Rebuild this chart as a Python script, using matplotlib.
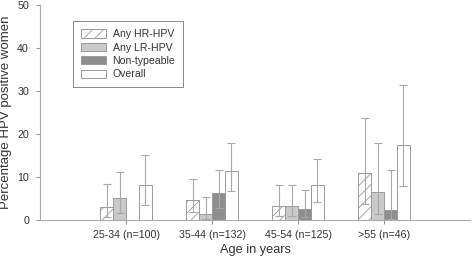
import numpy as np
import matplotlib
matplotlib.use('Agg')
import matplotlib.pyplot as plt

plt.rcParams['font.family'] = ['Liberation Sans', 'DejaVu Sans']
plt.rcParams['hatch.color'] = '#9a9a9a'
plt.rcParams['hatch.linewidth'] = 0.6

groups = ['25-34 (n=100)', '35-44 (n=132)', '45-54 (n=125)', '>55 (n=46)']
series = ['Any HR-HPV', 'Any LR-HPV', 'Non-typeable', 'Overall']

# percentages with 95% CI (lower, upper)
hr = [3.0, 4.5, 3.2, 10.9]
hr_lo = [0.6, 1.7, 0.9, 3.6]
hr_hi = [8.4, 9.5, 8.1, 23.6]
lr = [5.0, 1.4, 3.2, 6.5]
lr_lo = [1.6, 0.2, 0.9, 1.4]
lr_hi = [11.2, 5.3, 8.1, 17.9]
nt = [0.0, 6.1, 2.5, 2.2]
nt_lo = [0.0, 2.6, 0.5, 0.1]
nt_hi = [0.0, 11.5, 7.0, 11.5]
ov = [8.0, 11.4, 8.1, 17.4]
ov_lo = [3.5, 6.6, 4.0, 7.8]
ov_hi = [15.0, 17.9, 14.2, 31.4]

vals = [hr, lr, nt, ov]
los = [hr_lo, lr_lo, nt_lo, ov_lo]
his = [hr_hi, lr_hi, nt_hi, ov_hi]
faces = ['white', '#cacaca', '#8e8e8e', 'white']
hatches = ['///', None, None, None]
edge = '#9a9a9a'
txt = '#333333'

fig = plt.figure(figsize=(4.72, 2.62), dpi=100)
ax = fig.add_axes([0.085, 0.162, 0.911, 0.818])

x = np.arange(1, len(groups) + 1)
w = 0.15
for i in range(4):
    pos = x + (i - 1.5) * w
    v = np.array(vals[i])
    err = [v - np.array(los[i]), np.array(his[i]) - v]
    show = np.array(his[i]) > 0
    ax.bar(pos, v, w, color=faces[i], edgecolor=edge, linewidth=0.7,
           hatch=hatches[i], label=series[i])
    ax.errorbar(pos[show], v[show], yerr=[err[0][show], err[1][show]], fmt='none',
                ecolor='#a8a8a8', elinewidth=0.8, capsize=3, capthick=0.8)

ax.set_xlim(0, 5)
ax.set_ylim(0, 50)
ax.set_xticks(x)
ax.set_xticklabels(groups, fontsize=7.7, color=txt)
ax.set_yticks([0, 10, 20, 30, 40, 50])
ax.tick_params(axis='y', labelsize=7.7, labelcolor=txt, color='#999999', length=3, pad=5)
ax.tick_params(axis='x', color='#999999', length=3, pad=4.5)
for s in ['top', 'right']:
    ax.spines[s].set_visible(False)
for s in ['left', 'bottom']:
    ax.spines[s].set_color('#aaaaaa')
    ax.spines[s].set_linewidth(0.8)

ax.set_ylabel('Percentage HPV positive women', fontsize=9.5, color=txt, labelpad=4)
ax.set_xlabel('Age in years', fontsize=9.2, color=txt, labelpad=3)

leg = ax.legend(loc='upper left', bbox_to_anchor=(0.064, 0.95), fontsize=7.6,
                fancybox=False, edgecolor='#888888', framealpha=1,
                handlelength=2.4, handleheight=0.8, borderpad=0.75,
                labelspacing=0.32, handletextpad=0.6)
leg.get_frame().set_linewidth(0.7)
for t in leg.get_texts():
    t.set_color(txt)

fig.savefig('out.png', dpi=100)
